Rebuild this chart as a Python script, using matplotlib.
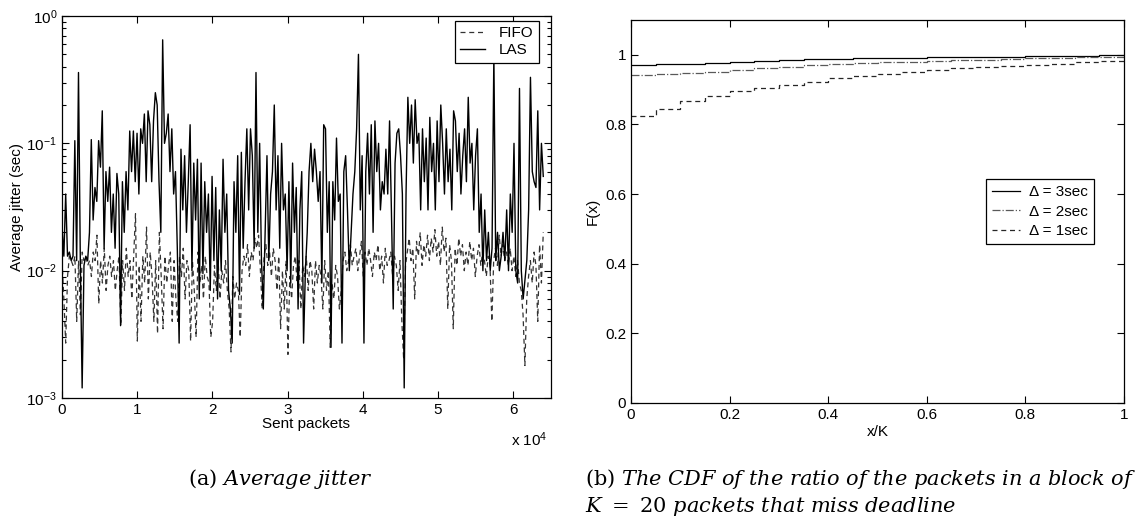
import matplotlib
matplotlib.use("Agg")
import matplotlib.pyplot as plt
import numpy as np
from matplotlib.ticker import FuncFormatter, FormatStrFormatter, MultipleLocator, LogLocator

plt.rcParams["font.family"] = ["Liberation Sans", "DejaVu Sans"]
plt.rcParams["mathtext.fontset"] = "custom"
plt.rcParams["mathtext.rm"] = "DejaVu Serif"
plt.rcParams["mathtext.it"] = "DejaVu Serif:italic"

# (a) average jitter per block of sent packets (sec)
las_jitter = [
    0.022, 0.013, 0.04, 0.013, 0.014, 0.012, 0.013, 0.105, 0.012, 0.36,
    0.012, 0.0012, 0.011, 0.013, 0.012, 0.02, 0.107, 0.025, 0.045, 0.035,
    0.105, 0.065, 0.18, 0.015, 0.06, 0.035, 0.065, 0.02, 0.04, 0.015,
    0.058, 0.04, 0.0037, 0.05, 0.02, 0.06, 0.03, 0.125, 0.06, 0.125,
    0.05, 0.12, 0.04, 0.13, 0.1, 0.17, 0.05, 0.18, 0.14, 0.05,
    0.15, 0.25, 0.2, 0.05, 0.02, 0.65, 0.1, 0.12, 0.17, 0.06,
    0.13, 0.04, 0.06, 0.015, 0.0027, 0.09, 0.03, 0.08, 0.02, 0.05,
    0.14, 0.01, 0.07, 0.025, 0.075, 0.006, 0.07, 0.0095, 0.05, 0.02,
    0.04, 0.007, 0.055, 0.012, 0.045, 0.006, 0.03, 0.01, 0.075, 0.02,
    0.04, 0.007, 0.005, 0.0027, 0.05, 0.02, 0.08, 0.0065, 0.085, 0.015,
    0.05, 0.13, 0.03, 0.13, 0.08, 0.015, 0.36, 0.02, 0.1, 0.012,
    0.005, 0.02, 0.08, 0.012, 0.04, 0.06, 0.2, 0.03, 0.08, 0.015,
    0.1, 0.03, 0.04, 0.01, 0.05, 0.008, 0.07, 0.02, 0.045, 0.005,
    0.03, 0.06, 0.0027, 0.01, 0.02, 0.06, 0.1, 0.05, 0.09, 0.06,
    0.035, 0.06, 0.008, 0.14, 0.13, 0.02, 0.05, 0.0025, 0.05, 0.025,
    0.11, 0.035, 0.04, 0.0027, 0.06, 0.08, 0.03, 0.01, 0.02, 0.04,
    0.06, 0.13, 0.5, 0.03, 0.08, 0.0027, 0.06, 0.12, 0.04, 0.14,
    0.02, 0.15, 0.06, 0.1, 0.03, 0.05, 0.04, 0.09, 0.04, 0.15,
    0.03, 0.005, 0.07, 0.12, 0.13, 0.08, 0.04, 0.0012, 0.04, 0.23,
    0.1, 0.2, 0.07, 0.22, 0.1, 0.12, 0.03, 0.13, 0.05, 0.11,
    0.03, 0.16, 0.06, 0.1, 0.03, 0.15, 0.05, 0.2, 0.1, 0.04,
    0.13, 0.05, 0.09, 0.03, 0.18, 0.15, 0.06, 0.12, 0.04, 0.08,
    0.13, 0.05, 0.23, 0.07, 0.1, 0.03, 0.08, 0.13, 0.02, 0.04,
    0.01, 0.03, 0.012, 0.02, 0.01, 0.015, 0.5, 0.012, 0.02, 0.01,
    0.013, 0.02, 0.012, 0.03, 0.01, 0.04, 0.02, 0.1, 0.01, 0.008,
    0.27, 0.01, 0.006, 0.0085, 0.012, 0.03, 0.33, 0.06, 0.05, 0.045,
    0.18, 0.03, 0.1, 0.055,
]

fifo_jitter = [
    0.012, 0.006, 0.0027, 0.009, 0.013, 0.012, 0.011, 0.013, 0.004, 0.012,
    0.0045, 0.014, 0.012, 0.013, 0.011, 0.012, 0.009, 0.014, 0.012, 0.019,
    0.0055, 0.012, 0.008, 0.015, 0.007, 0.011, 0.013, 0.009, 0.012, 0.007,
    0.01, 0.013, 0.0037, 0.012, 0.007, 0.015, 0.009, 0.012, 0.006, 0.013,
    0.028, 0.0028, 0.011, 0.004, 0.013, 0.008, 0.022, 0.006, 0.014, 0.009,
    0.004, 0.012, 0.0032, 0.02, 0.009, 0.0035, 0.013, 0.008, 0.011, 0.014,
    0.004, 0.012, 0.006, 0.004, 0.013, 0.009, 0.015, 0.006, 0.012, 0.01,
    0.0028, 0.012, 0.007, 0.003, 0.014, 0.008, 0.011, 0.006, 0.013, 0.009,
    0.008, 0.003, 0.004, 0.011, 0.007, 0.012, 0.006, 0.01, 0.008, 0.012,
    0.007, 0.005, 0.0023, 0.009, 0.006, 0.008, 0.007, 0.003, 0.01, 0.013,
    0.011, 0.016, 0.009, 0.014, 0.012, 0.018, 0.015, 0.019, 0.01, 0.005,
    0.013, 0.016, 0.011, 0.014, 0.009, 0.015, 0.012, 0.007, 0.013, 0.0035,
    0.01, 0.005, 0.012, 0.0022, 0.009, 0.006, 0.011, 0.013, 0.008, 0.012,
    0.005, 0.011, 0.009, 0.013, 0.007, 0.012, 0.01, 0.005, 0.012, 0.008,
    0.011, 0.009, 0.005, 0.012, 0.007, 0.01, 0.0025, 0.008, 0.006, 0.011,
    0.009, 0.005, 0.007, 0.012, 0.014, 0.01, 0.012, 0.016, 0.011, 0.013,
    0.015, 0.01, 0.013, 0.017, 0.009, 0.014, 0.011, 0.015, 0.012, 0.009,
    0.014, 0.012, 0.016, 0.01, 0.013, 0.008, 0.015, 0.011, 0.012, 0.014,
    0.009, 0.013, 0.011, 0.007, 0.012, 0.004, 0.002, 0.011, 0.014, 0.018,
    0.012, 0.015, 0.006, 0.017, 0.013, 0.02, 0.011, 0.016, 0.013, 0.019,
    0.012, 0.018, 0.014, 0.021, 0.013, 0.017, 0.011, 0.022, 0.014, 0.018,
    0.005, 0.016, 0.012, 0.0035, 0.015, 0.011, 0.018, 0.013, 0.016, 0.01,
    0.014, 0.011, 0.017, 0.012, 0.015, 0.009, 0.013, 0.016, 0.011, 0.014,
    0.012, 0.009, 0.013, 0.011, 0.004, 0.012, 0.015, 0.011, 0.019, 0.013,
    0.016, 0.012, 0.014, 0.011, 0.015, 0.01, 0.013, 0.009, 0.012, 0.008,
    0.007, 0.0045, 0.0018, 0.006, 0.009, 0.012, 0.008, 0.014, 0.011, 0.004,
    0.016, 0.008, 0.02,
]
last_packet = 64000

# (b) CDF of the ratio of missed packets in a block of K packets
K = 20
cdf_3sec = [0.972, 0.973, 0.975, 0.977, 0.980, 0.983, 0.986, 0.988, 0.989, 0.990,
            0.991, 0.992, 0.993, 0.994, 0.995, 0.995, 0.996, 0.997, 0.998, 0.999]
cdf_2sec = [0.942, 0.944, 0.948, 0.951, 0.957, 0.961, 0.966, 0.970, 0.973, 0.976,
            0.978, 0.980, 0.982, 0.984, 0.986, 0.988, 0.990, 0.992, 0.994, 0.995]
cdf_1sec = [0.823, 0.844, 0.866, 0.883, 0.897, 0.905, 0.912, 0.922, 0.933, 0.940,
            0.946, 0.952, 0.957, 0.961, 0.965, 0.968, 0.972, 0.975, 0.979, 0.982]

fig = plt.figure(figsize=(11.38, 5.2), dpi=100)
ax1 = fig.add_axes([0.0545, 0.2346, 0.4295, 0.7346])
ax2 = fig.add_axes([0.5545, 0.225, 0.4332, 0.7365])

# left panel
x_las = np.linspace(0, last_packet, len(las_jitter))
x_fifo = np.linspace(0, last_packet, len(fifo_jitter))
ax1.plot(x_fifo, fifo_jitter, color="0.2", lw=0.9, dashes=(4, 3), label="FIFO")
ax1.plot(x_las, las_jitter, color="black", lw=1.0, label="LAS")
ax1.set_yscale("log")
ax1.set_ylim(1e-3, 1)
ax1.set_xlim(0, 65000)
ax1.xaxis.set_major_locator(MultipleLocator(10000))
ax1.xaxis.set_major_formatter(FuncFormatter(lambda v, p: f"{v / 1e4:g}"))
ax1.yaxis.set_minor_locator(LogLocator(subs=np.arange(2, 10)))
ax1.text(0.994, -0.085, r"x 10$^{\mathdefault{4}}$", transform=ax1.transAxes,
         ha="right", va="top", fontsize=11)
ax1.set_xlabel("Sent packets", fontsize=11, labelpad=0)
ax1.set_ylabel("Average jitter (sec)", fontsize=11, labelpad=2)
leg1 = ax1.legend(loc="upper right", bbox_to_anchor=(0.975, 0.987), fontsize=11,
                  fancybox=False, edgecolor="black", framealpha=1,
                  handlelength=1.6, borderpad=0.35, labelspacing=0.2,
                  handletextpad=0.9, borderaxespad=0)
leg1.get_frame().set_linewidth(0.9)

# right panel
ratio = np.arange(K + 1) / K
ax2.step(ratio, cdf_3sec + cdf_3sec[-1:], where="post", color="black", lw=0.9,
         label="Δ = 3sec")
ax2.step(ratio, cdf_2sec + cdf_2sec[-1:], where="post", color="0.35", lw=0.9,
         linestyle="-.", label="Δ = 2sec")
ax2.step(ratio, cdf_1sec + cdf_1sec[-1:], where="post", color="0.15", lw=0.9,
         dashes=(4, 3), label="Δ = 1sec")
ax2.set_xlim(0, 1)
ax2.set_ylim(0, 1.1)
ax2.xaxis.set_major_locator(MultipleLocator(0.2))
ax2.set_yticks(np.arange(0, 1.01, 0.2))
ax2.xaxis.set_major_formatter(FormatStrFormatter("%g"))
ax2.yaxis.set_major_formatter(FormatStrFormatter("%g"))
ax2.set_xlabel("x/K", fontsize=11, labelpad=2)
ax2.set_ylabel("F(x)", fontsize=11, labelpad=4)
leg2 = ax2.legend(loc="center left", bbox_to_anchor=(0.72, 0.5), fontsize=11,
                  fancybox=False, edgecolor="black", framealpha=1,
                  handlelength=1.8, borderpad=0.4, labelspacing=0.35,
                  handletextpad=0.6, borderaxespad=0)
leg2.get_frame().set_linewidth(0.9)

for ax in (ax1, ax2):
    ax.tick_params(which="both", direction="in", top=True, right=True,
                   labelsize=11, width=0.8)
    ax.tick_params(which="major", length=5)
    ax.tick_params(which="minor", length=3)
    for s in ax.spines.values():
        s.set_linewidth(0.9)

# subfigure captions
fig.text(0.246, 0.079, r"$\mathrm{(a)}\ \mathit{Average\ jitter}$",
         ha="center", va="center", fontsize=15)
fig.text(0.514, 0.079,
         r"$\mathrm{(b)}\ \mathit{The\ CDF\ of\ the\ ratio\ of\ the\ packets\ in\ a\ block\ of}$",
         ha="left", va="center", fontsize=15)
fig.text(0.514, 0.025, r"$K\ \mathrm{=\ 20}\ \mathit{packets\ that\ miss\ deadline}$",
         ha="left", va="center", fontsize=15)

fig.savefig("out.png", dpi=100)
